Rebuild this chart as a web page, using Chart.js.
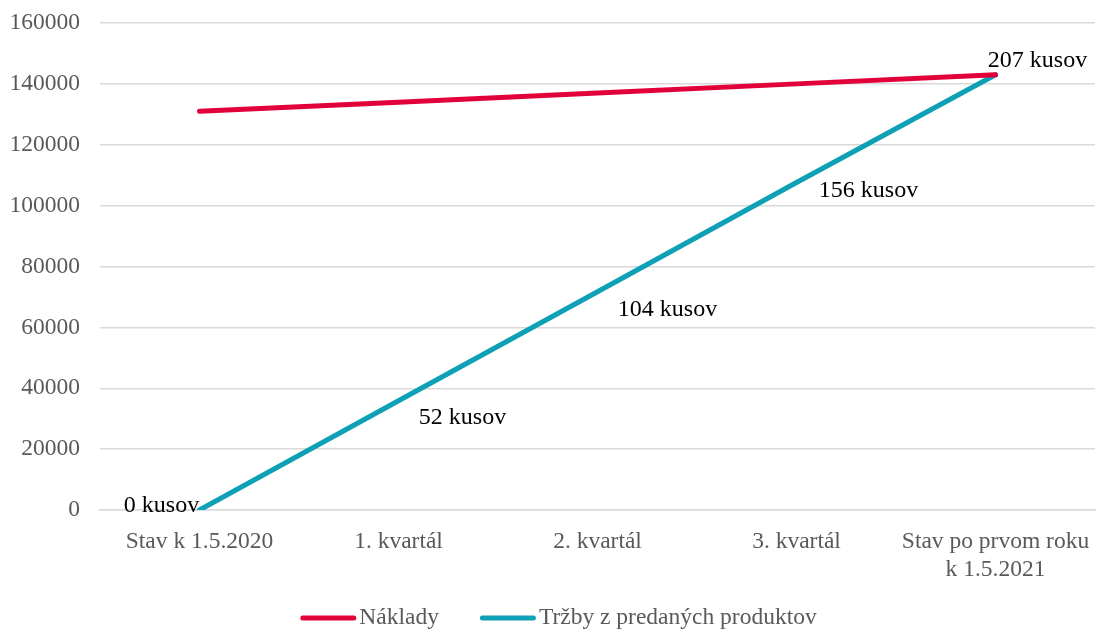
<!DOCTYPE html>
<html>
<head>
<meta charset="utf-8">
<script src="https://cdn.jsdelivr.net/npm/chart.js@4/dist/chart.umd.min.js"></script>
<style>
  html, body { margin: 0; padding: 0; background: #ffffff; }
  #wrap { width: 1101px; height: 629px; position: relative; }
</style>
</head>
<body>
<div id="wrap"><canvas id="c"></canvas></div>
<script>
// Categories along the horizontal axis
const categories = [
  'Stav k 1.5.2020',
  '1. kvartál',
  '2. kvartál',
  '3. kvartál',
  ['Stav po prvom roku', 'k 1.5.2021']
];

// Series values (EUR)
const naklady = [131000, 134000, 137000, 140000, 143000];
const trzby   = [0, 35900, 71700, 107600, 143000];

// Sold units shown next to the revenue line
const kusyLabels = ['0 kusov', '52 kusov', '104 kusov', '156 kusov', '207 kusov'];

// Y axis ticks
const yMin = 0, yMax = 160000, yStep = 20000;

// Label placement relative to each revenue point (px)
const labelOffsets = [
  { dx: -38, dy: -4 },
  { dx: 64, dy: 17 },
  { dx: 70, dy: 18 },
  { dx: 72, dy: 8 },
  { dx: 42, dy: -14 }
];

const FONT = "'Liberation Serif', 'Times New Roman', serif";
const RED = '#e2003a';
const TEAL = '#0ea0b5';
const GREY_TEXT = '#595959';
const GRID = '#d9d9d9';

// Unit labels drawn beside the revenue series
const unitLabels = {
  id: 'unitLabels',
  afterDatasetsDraw(chart) {
    const meta = chart.getDatasetMeta(1);
    const ctx = chart.ctx;
    ctx.save();
    ctx.font = '24px ' + FONT;
    ctx.fillStyle = '#000000';
    ctx.textAlign = 'center';
    ctx.textBaseline = 'middle';
    meta.data.forEach((pt, i) => {
      const o = labelOffsets[i];
      ctx.fillText(kusyLabels[i], pt.x + o.dx, pt.y + o.dy);
    });
    ctx.restore();
  }
};

// Legend with line swatches at the bottom
const lineLegend = {
  id: 'lineLegend',
  afterDraw(chart) {
    const ctx = chart.ctx;
    const sw = 56, gapText = 3, gapItem = 41;
    ctx.save();
    ctx.font = '23.5px ' + FONT;
    const items = chart.data.datasets.map(ds => ({
      text: ds.label, color: ds.borderColor, w: ctx.measureText(ds.label).width
    }));
    let total = 0;
    items.forEach((it, i) => { total += sw + gapText + it.w + (i ? gapItem : 0); });
    let x = (chart.width - total) / 2 + 8;
    const y = 618;
    items.forEach(it => {
      ctx.strokeStyle = it.color;
      ctx.lineWidth = 5;
      ctx.lineCap = 'round';
      ctx.beginPath();
      ctx.moveTo(x + 2.5, y);
      ctx.lineTo(x + sw - 2.5, y);
      ctx.stroke();
      ctx.fillStyle = GREY_TEXT;
      ctx.textAlign = 'left';
      ctx.textBaseline = 'middle';
      ctx.fillText(it.text, x + sw + gapText, y);
      x += sw + gapText + it.w + gapItem;
    });
    ctx.restore();
  }
};

new Chart(document.getElementById('c'), {
  type: 'line',
  data: {
    labels: categories,
    datasets: [
      {
        label: 'Náklady',
        data: naklady,
        borderColor: RED,
        backgroundColor: RED,
        borderWidth: 5,
        borderCapStyle: 'round',
        pointRadius: 0,
        tension: 0
      },
      {
        label: 'Tržby z predaných produktov',
        data: trzby,
        borderColor: TEAL,
        backgroundColor: TEAL,
        borderWidth: 5,
        borderCapStyle: 'round',
        pointRadius: 0,
        tension: 0
      }
    ]
  },
  options: {
    responsive: true,
    maintainAspectRatio: false,
    animation: false,
    layout: { padding: { left: 10, right: 6, top: 23, bottom: 0 } },
    plugins: {
      legend: { display: false },
      tooltip: { enabled: false }
    },
    scales: {
      x: {
        offset: true,
        grid: { display: false, drawTicks: false },
        border: { display: true, color: GRID, width: 1.5 },
        ticks: {
          color: GREY_TEXT,
          font: { family: FONT, size: 23.5 },
          padding: 18,
          maxRotation: 0,
          autoSkip: false
        },
        afterFit(scale) {
          scale.height = 119;
          scale.paddingLeft = 0;
          scale.paddingRight = 0;
        }
      },
      y: {
        min: yMin,
        max: yMax,
        grid: { color: GRID, lineWidth: 1.5, drawTicks: false },
        border: { display: false },
        ticks: {
          stepSize: yStep,
          color: GREY_TEXT,
          font: { family: FONT, size: 23.5 },
          padding: 20,
          callback: v => String(v)
        },
        afterFit(scale) {
          scale.width = 90;
          scale.paddingTop = 0;
          scale.paddingBottom = 0;
        }
      }
    }
  },
  plugins: [unitLabels, lineLegend]
});
</script>
</body>
</html>
